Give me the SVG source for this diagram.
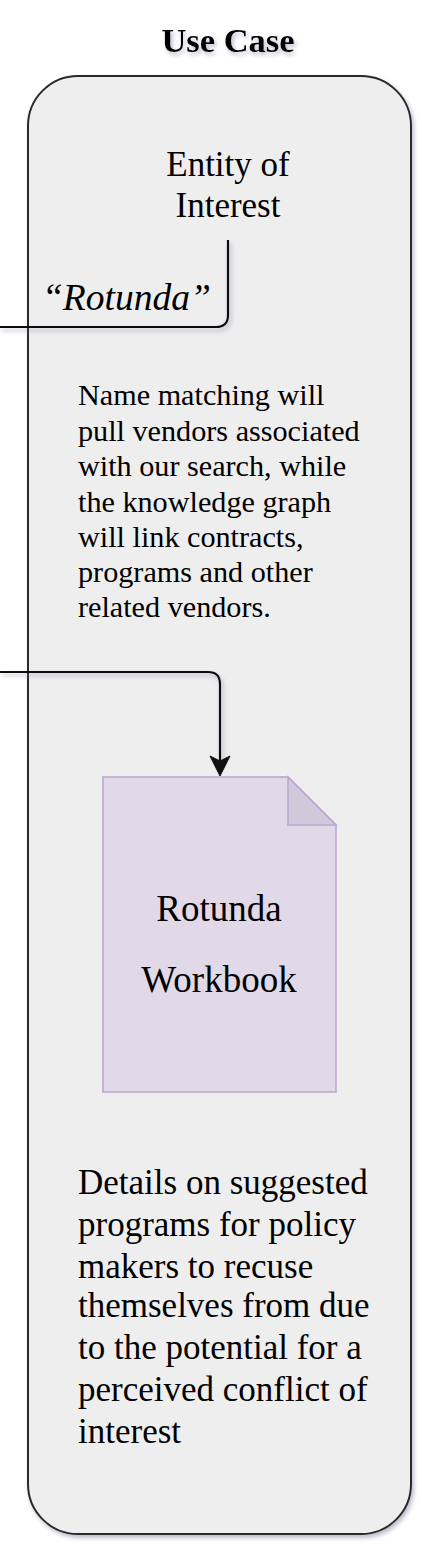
<svg xmlns="http://www.w3.org/2000/svg" width="422" height="1550" viewBox="0 0 422 1550">
<style>
.serif{font-family:"Liberation Serif","Times New Roman",serif;fill:#000;}
.conn{fill:none;stroke:#111;stroke-width:2.2;}
</style>
<defs>
<filter id="sh" x="-10%" y="-10%" width="130%" height="130%">
<feDropShadow dx="2" dy="3" stdDeviation="2" flood-color="#6a7090" flood-opacity="0.45"/>
</filter>
</defs>
<rect width="422" height="1550" fill="#ffffff"/>
<g id="title">
<text class="serif" x="228" y="52" font-size="34.5" font-weight="bold" text-anchor="middle" filter="url(#sh)">Use Case</text>
</g>
<g id="container">
<rect x="28" y="76" width="383" height="1458" rx="50" ry="50" fill="#eeeeee" stroke="#2a2a2a" stroke-width="2" filter="url(#sh)"/>
</g>
<g id="entity">
<text class="serif" font-size="35" text-anchor="middle"><tspan x="228" y="176">Entity of</tspan><tspan x="228" y="217">Interest</tspan></text>
</g>
<g id="connectors">
<path class="conn" d="M0,327 H216 Q228,327 228,315 V240" filter="url(#sh)"/>
<path class="conn" d="M0,672 H208 Q220,672 220,684 V762" filter="url(#sh)"/>
<path d="M220,776 L210,756 L220,761 L230,756 Z" fill="#111" stroke="#111" stroke-width="1"/>
</g>
<g id="rotunda-label">
<text class="serif" x="42" y="310" font-size="37.5" font-style="italic">“Rotunda”</text>
</g>
<g id="note1">
<text class="serif" font-size="30.2"><tspan x="78" y="405">Name matching will</tspan><tspan x="78" y="441">pull vendors associated</tspan><tspan x="78" y="476">with our search, while</tspan><tspan x="78" y="512">the knowledge graph</tspan><tspan x="78" y="547">will link contracts,</tspan><tspan x="78" y="582">programs and other</tspan><tspan x="78" y="617">related vendors.</tspan></text>
</g>
<g id="workbook">
<path d="M103,777 H288 L336,825 V1092 H103 Z" fill="#e1d8e8" stroke="#b9a6cc" stroke-width="1.5"/>
<path d="M288,777 V825 H336 Z" fill="#d2c8dc" stroke="#b9a6cc" stroke-width="1.5"/>
<text class="serif" font-size="37" text-anchor="middle"><tspan x="219" y="921">Rotunda</tspan><tspan x="219" y="992">Workbook</tspan></text>
</g>
<g id="note2">
<text class="serif" font-size="35"><tspan x="78" y="1194">Details on suggested</tspan><tspan x="78" y="1236">programs for policy</tspan><tspan x="78" y="1278">makers to recuse</tspan><tspan x="78" y="1317">themselves from due</tspan><tspan x="78" y="1359">to the potential for a</tspan><tspan x="78" y="1401">perceived conflict of</tspan><tspan x="78" y="1443">interest</tspan></text>
</g>
</svg>
